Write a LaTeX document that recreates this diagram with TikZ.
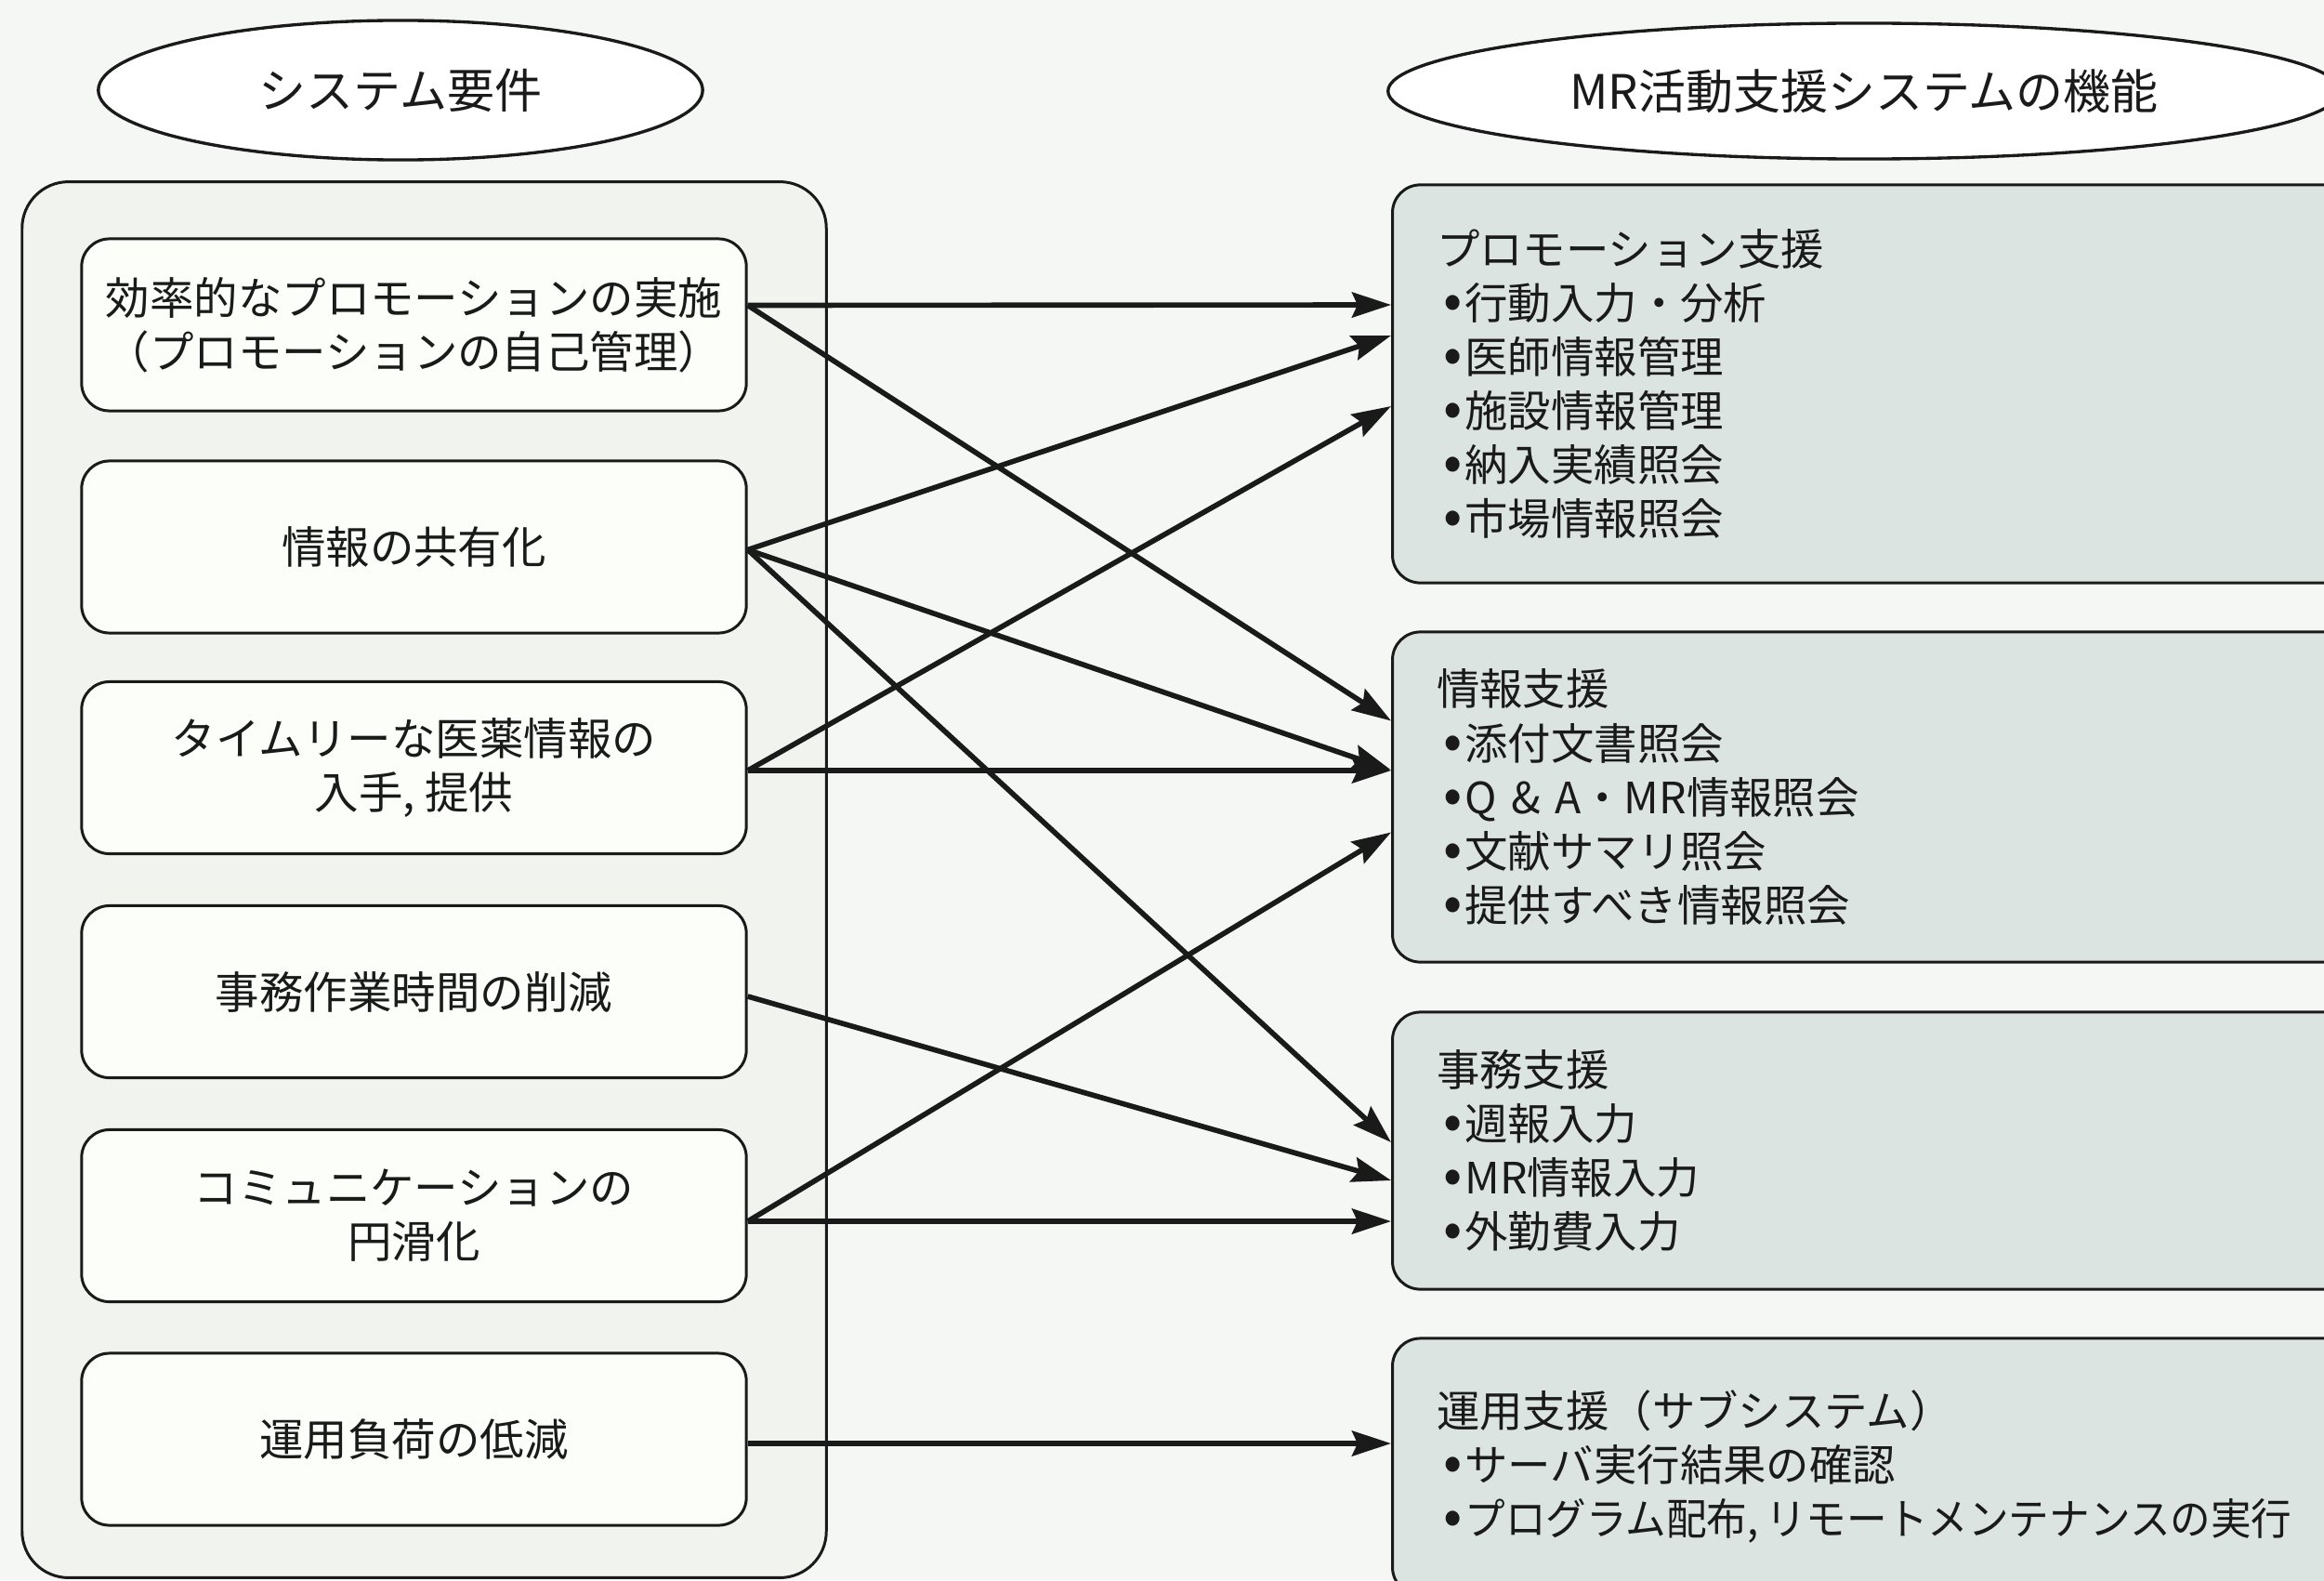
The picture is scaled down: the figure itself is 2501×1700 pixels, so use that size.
\documentclass[tikz,border=0pt]{standalone}
\usepackage{graphicx}
\usepackage{fontspec}
\setmainfont{Noto Sans CJK JP}
\usetikzlibrary{shapes.geometric,arrows.meta,calc}
\definecolor{bgc}{HTML}{F4F7F3}
\definecolor{framec}{HTML}{F1F3EE}
\definecolor{innerc}{HTML}{FBFEF9}
\definecolor{rfill}{HTML}{DCE4E2}
\definecolor{inkc}{HTML}{1A1A1A}
\newcommand{\bul}{\hspace*{0.07cm}{\fontsize{17}{16.5}\selectfont •}\hspace*{0.03cm}}
\tikzset{
  lbox/.style={draw=inkc, line width=0.85pt, rounded corners=0.3cm, fill=innerc,
    minimum width=7.15cm, minimum height=1.85cm, align=center, inner sep=0pt,
    font=\fontsize{13.5}{16.5}\selectfont},
  rbox/.style={draw=inkc, line width=0.85pt, rounded corners=0.3cm, fill=rfill, anchor=west,
    minimum width=10.45cm, text width=9.5cm, inner xsep=0.47cm, align=left},
  oval/.style={draw=inkc, ellipse, fill=white, line width=0.95pt, inner sep=0pt,
    font=\fontsize{14.5}{16.5}\selectfont},
  conn/.style={-{Stealth[length=0.42cm,width=0.27cm,inset=0.06cm]}, line width=1.6pt, draw=inkc}
}
\begin{document}
\begin{tikzpicture}[x=0.01cm,y=-0.01cm,font=\fontsize{13.2}{16.5}\selectfont,text=inkc]
\useasboundingbox (0,0) rectangle (2501,1700);
\clip (0,0) rectangle (2501,1700);
\fill[bgc] (0,0) rectangle (2501,1700);

% titles
\node[oval, minimum width=6.5cm, minimum height=1.5cm] (T1) at (431,97) {システム要件};
\node[oval, minimum width=10.24cm, minimum height=1.46cm] (T2) at (2006,98) {MR活動支援システムの機能};

% left frame
\node[draw=inkc, line width=0.85pt, rounded corners=0.5cm, fill=framec,
  minimum width=8.65cm, minimum height=15.01cm, inner sep=0pt] (frame) at (456.5,946.5) {};

% left boxes
\node[lbox] (L1) at (445.5,349.5) {効率的なプロモーションの実施\\（プロモーションの自己管理）};
\node[lbox] (L2) at (445.5,588.5) {情報の共有化};
\node[lbox] (L3) at (445.5,826) {タイムリーな医薬情報の\\入手, 提供};
\node[lbox] (L4) at (445.5,1067) {事務作業時間の削減};
\node[lbox] (L5) at (445.5,1308) {コミュニケーションの\\円滑化};
\node[lbox] (L6) at (445.5,1548.5) {運用負荷の低減};

% right boxes
\node[rbox, minimum height=4.28cm] (R1) at (1497,413)
  {プロモーション支援\\\bul 行動入力・分析\\\bul 医師情報管理\\\bul 施設情報管理\\\bul 納入実績照会\\\bul 市場情報照会};
\node[rbox, minimum height=3.55cm] (R2) at (1497,857.5)
  {情報支援\\\bul 添付文書照会\\\bul Q \& A・MR情報照会\\\bul 文献サマリ照会\\\bul 提供すべき情報照会};
\node[rbox, minimum height=2.98cm] (R3) at (1497,1238)
  {事務支援\\\bul 週報入力\\\bul MR情報入力\\\bul 外勤費入力};
\node[rbox, minimum height=2.76cm] (R4) at (1497,1578)
  {運用支援（サブシステム）\\\bul サーバ実行結果の確認\\\mbox{\bul\scalebox{0.94}[1]{プログラム配布,\hspace{0.08cm}リモートメンテナンスの実行}}};

% start points
\coordinate (s1) at ($(L1.east)+(0,-21)$);
\coordinate (s2) at ($(L2.east)+(0,3)$);
\coordinate (s3) at ($(L3.east)+(0,3)$);
\coordinate (s4) at ($(L4.east)+(0,5)$);
\coordinate (s5) at ($(L5.east)+(0,6)$);
\coordinate (s6) at ($(L6.east)+(0,4.5)$);

% connectors
\draw[conn] (s1) -- ($(R1.west)+(0,-85)$);
\draw[conn] (s1) -- ($(R2.west)+(0,-82)$);
\draw[conn] (s2) -- ($(R1.west)+(0,-52)$);
\draw[conn] (s2) -- ($(R2.west)+(0,-29)$);
\draw[conn] (s2) -- ($(R3.west)+(0,-9)$);
\draw[conn] (s3) -- ($(R1.west)+(0,24)$);
\draw[conn] (s3) -- ($(R2.west)+(0,-28.5)$);
\draw[conn] (s4) -- ($(R3.west)+(0,32)$);
\draw[conn] (s5) -- ($(R2.west)+(0,38)$);
\draw[conn] (s5) -- ($(R3.west)+(0,76)$);
\draw[conn] (s6) -- ($(R4.west)+(0,-25)$);
\end{tikzpicture}
\end{document}
